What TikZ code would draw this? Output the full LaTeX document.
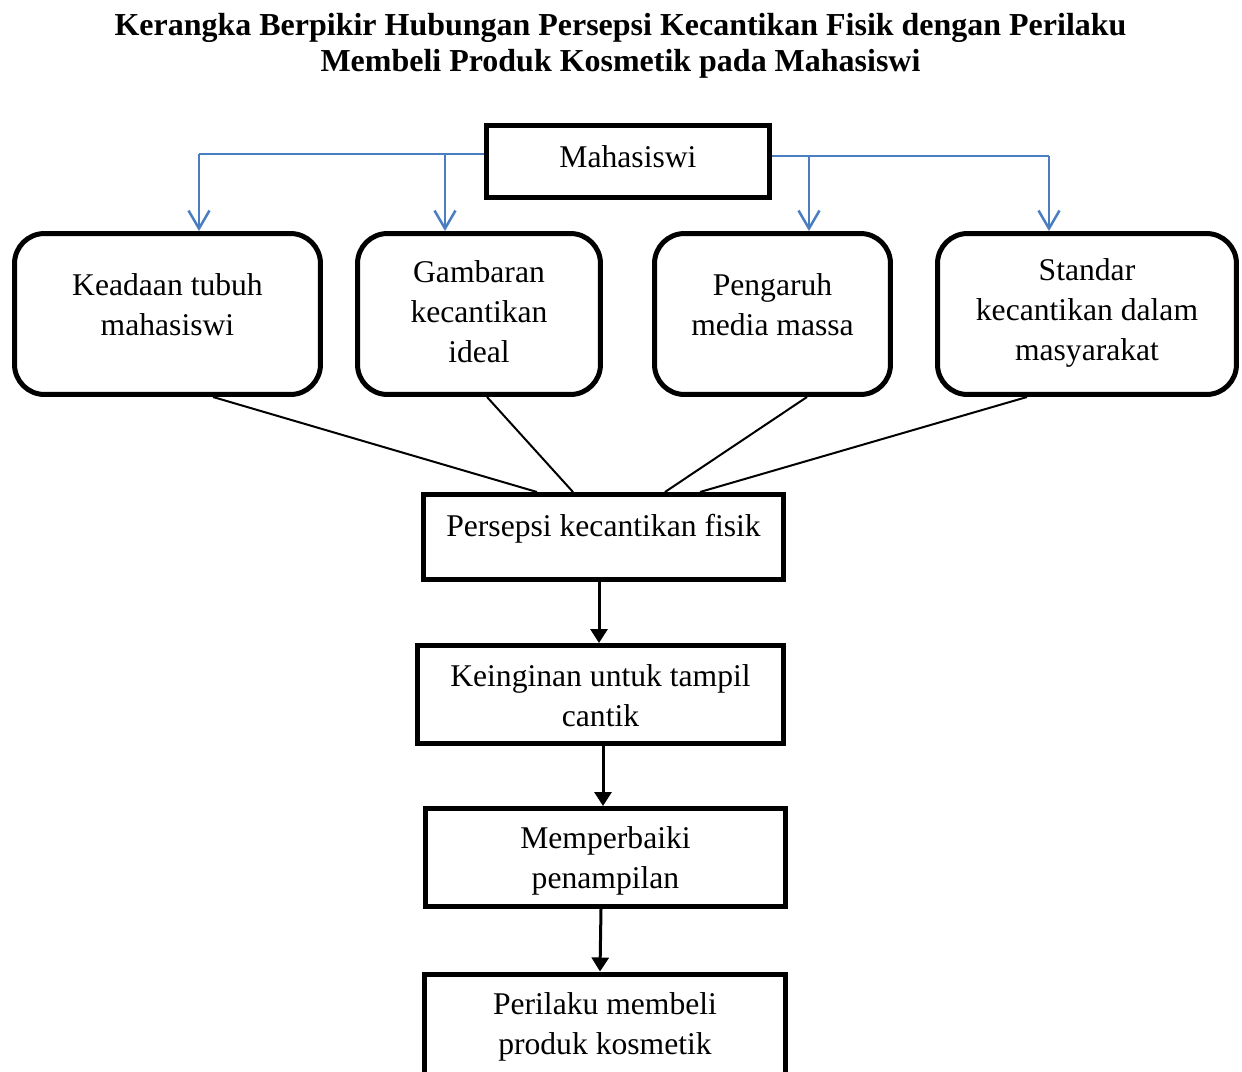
\documentclass[tikz,border=0pt]{standalone}
\usepackage{fontspec}
\setmainfont{Liberation Serif}
\usetikzlibrary{arrows.meta}
\definecolor{wordblue}{RGB}{74,126,193}
\begin{document}
\begin{tikzpicture}[x=.02cm,y=-.02cm,
  box/.style={draw,line width=.1cm,inner sep=0pt},
  rbox/.style={box,rounded corners=.6cm,minimum height=3.22cm},
  txt/.style={align=center,font=\fontsize{18}{22.8}\selectfont,inner sep=0pt},
  fork/.style={wordblue,line width=.05cm},
  down/.style={fork,-{Straight Barb[length=.36cm,width=.42cm]}},
  flow/.style={line width=.06cm,-{Triangle[length=.28cm,width=.34cm]}}]
\useasboundingbox (0,0) rectangle (1242,1072);
\node[align=center,font=\fontsize{18.2}{20.6}\selectfont\bfseries] (title) at (620.5,46)
  {Kerangka Berpikir Hubungan Persepsi Kecantikan Fisik dengan Perilaku\\Membeli Produk Kosmetik pada Mahasiswi};
% boxes
\node[box,minimum width=5.66cm,minimum height=1.44cm] (mhs) at (628,161.5) {};
\node[rbox,minimum width=6.12cm] (b1) at (167.5,314) {};
\node[rbox,minimum width=4.86cm] (b2) at (479,314) {};
\node[rbox,minimum width=4.72cm] (b3) at (772.5,314) {};
\node[rbox,minimum width=5.98cm] (b4) at (1087,314) {};
\node[box,minimum width=7.2cm,minimum height=1.7cm] (per) at (603.5,537) {};
\node[box,minimum width=7.32cm,minimum height=1.96cm] (kei) at (600.5,694.5) {};
\node[box,minimum width=7.2cm,minimum height=1.96cm] (mem) at (605.5,857.5) {};
\node[box,minimum width=7.24cm,minimum height=2.4cm] (pkb) at (605,1034) {};
% texts
\node[txt] (mhs-t) at (628,157) {Mahasiswi};
\node[txt] (b1-t) at (167.5,305) {Keadaan tubuh\\mahasiswi};
\node[txt] (b2-t) at (479,312) {Gambaran\\kecantikan\\ideal};
\node[txt] (b3-t) at (772.5,305) {Pengaruh\\media massa};
\node[txt] (b4-t) at (1087,313) {Standar\\kecantikan dalam\\masyarakat};
\node[txt] (per-t) at (603.5,529) {Persepsi kecantikan fisik};
\node[txt] (kei-t) at (600.5,696) {Keinginan untuk tampil\\cantik};
\node[txt] (mem-t) at (605.5,861) {Memperbaiki\\penampilan};
\node[txt] (pkb-t) at (605,1027) {Perilaku membeli\\produk kosmetik};
% blue fork from Mahasiswi
\coordinate (fl) at (199,154); \coordinate (fl2) at (445,154);
\coordinate (fr2) at (809,156); \coordinate (fr) at (1049,156);
\draw[fork] (mhs.west |- fl) -- (fl);
\draw[down] (fl) -- (fl |- b1.north);
\draw[down] (fl2) -- (fl2 |- b2.north);
\draw[fork] (mhs.east |- fr) -- (fr);
\draw[down] (fr2) -- (fr2 |- b3.north);
\draw[down] (fr) -- (fr |- b4.north);
% lines into persepsi
\foreach \b/\s/\t in {b1/.91/-1.33,b2/.16/-.61,b3/.69/1.23,b4/-1.2/1.93}
  \draw[line width=.04cm] ([xshift=\s cm]\b.south) -- ([xshift=\t cm]per.north);
% chain
\draw[flow] ([xshift=-.09cm]per.south) -- ([xshift=-.09cm]per.south |- kei.north);
\draw[flow] ([xshift=.05cm]kei.south) -- ([xshift=.05cm]kei.south |- mem.north);
\draw[flow] ([xshift=-.09cm]mem.south) -- ([xshift=-.1cm]pkb.north);
\end{tikzpicture}
\end{document}
